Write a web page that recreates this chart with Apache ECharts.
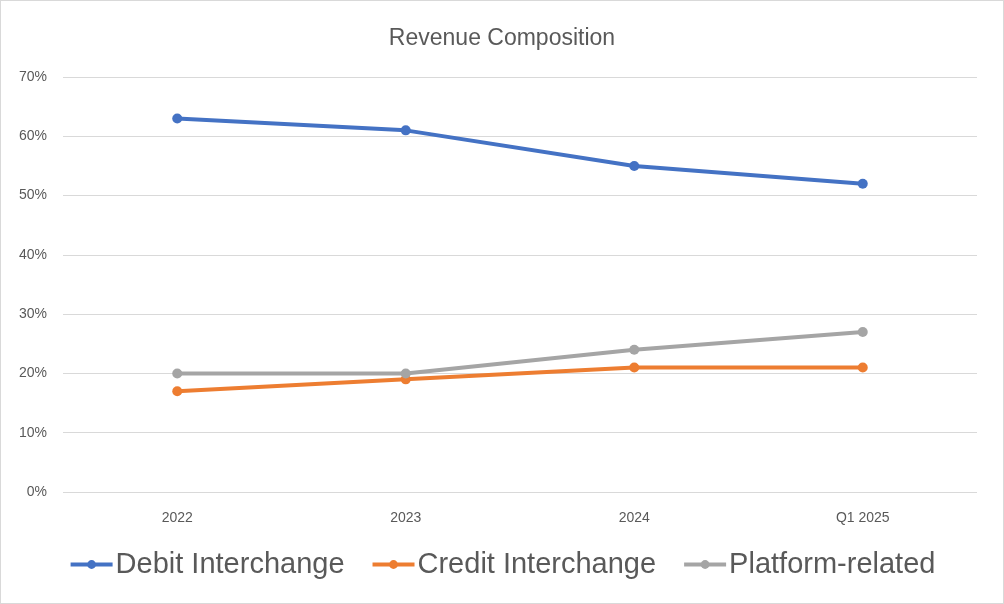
<!DOCTYPE html>
<html>
<head>
<meta charset="utf-8">
<script src="https://cdn.jsdelivr.net/npm/echarts@6/dist/echarts.min.js"></script>
<style>
html,body{margin:0;padding:0;background:#fff;}
#c{width:1004px;height:604px;box-sizing:border-box;border:1px solid #d9d9d9;}
</style>
</head>
<body>
<div id="c"></div>
<script>
const categories = ['2022', '2023', '2024', 'Q1 2025'];
const debitInterchange = [63, 61, 55, 52];
const creditInterchange = [17, 19, 21, 21];
const platformRelated = [20, 20, 24, 27];
const yTicks = [0, 10, 20, 30, 40, 50, 60, 70];

const FONT = '"Liberation Sans", sans-serif';
const chart = echarts.init(document.getElementById('c'));
function mk(name, data, color) {
  return {
    name, type: 'line', data,
    symbol: 'circle', symbolSize: 10,
    lineStyle: { width: 4, color },
    itemStyle: { color },
    emphasis: { disabled: true }
  };
}
chart.setOption({
  animation: false,
  textStyle: { fontFamily: FONT },
  title: {
    text: 'Revenue Composition', left: 'center', top: 21,
    textStyle: { fontSize: 23, fontWeight: 'normal', color: '#595959', fontFamily: FONT }
  },
  legend: {
    bottom: 19, left: 'center', itemWidth: 42, itemHeight: 11, itemGap: 26,
    lineStyle: { width: 4 },
    textStyle: { fontSize: 29, color: '#595959', fontFamily: FONT, padding: [0, 0, 0, -2] },
    data: ['Debit Interchange', 'Credit Interchange', 'Platform-related']
  },
  grid: { left: 62, right: 26, top: 76, bottom: 111, containLabel: false },
  xAxis: {
    type: 'category', data: categories, boundaryGap: true,
    axisLine: { show: false }, axisTick: { show: false },
    axisLabel: { fontSize: 14, color: '#595959', margin: 19, fontFamily: FONT }
  },
  yAxis: {
    type: 'value', min: yTicks[0], max: yTicks[yTicks.length - 1], interval: 10,
    axisLine: { show: false }, axisTick: { show: false },
    axisLabel: { fontSize: 14, color: '#595959', margin: 16, formatter: v => v + '%', fontFamily: FONT },
    splitLine: { lineStyle: { color: '#d9d9d9', width: 1 } }
  },
  series: [
    mk('Debit Interchange', debitInterchange, '#4472c4'),
    mk('Credit Interchange', creditInterchange, '#ed7d31'),
    mk('Platform-related', platformRelated, '#a5a5a5')
  ]
});
</script>
</body>
</html>
